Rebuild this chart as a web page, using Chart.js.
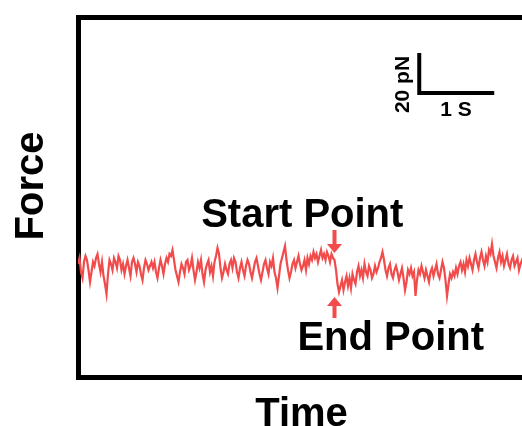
<!DOCTYPE html>
<html>
<head>
<meta charset="utf-8">
<script src="https://cdn.jsdelivr.net/npm/chart.js@4.4.1/dist/chart.umd.min.js"></script>
<style>
  html, body { margin: 0; padding: 0; background: #fff; overflow: hidden; }
  #wrap { position: relative; width: 528px; height: 426px; }
</style>
</head>
<body>
<div id="wrap"><canvas id="forceChart"></canvas></div>
<script>
// Force trace (pN, relative to the resting level), one sample every 0.02 s
const sampleStep = 0.02;
const forceTrace = [
  1, 4, -3, -6, 2, 5, 3, -2, -8, -3, 2, 0, 4, 6, 1, -3, 2, -5, -9, -14, -4, 3, 1, -2, 4,
  2, -1, 5, 3, -2, 1, -4, 0, 3, -1, -5, 2, 4, 1, -3, 2, 0, -4, -7, -1, 3, 1, -2, 0, 2,
  -1, 2, -3, -6, -1, 3, 0, -4, 1, 4, 2, 6, 5, 8, 3, -2, -5, -8, -3, 1, -1, -4, 2, 3, -2,
  0, 4, -2, -7, -3, 2, -1, 3, -4, -8, -2, 1, 3, -3, 0, -5, 2, 5, 9, 6, -1, -6, -3, 1, -2,
  -4, 1, 3, -1, 4, 2, -3, -6, -1, 2, -2, -5, 0, 3, 1, -3, -6, -2, 2, 4, 0, -4, -7, -3, 1,
  3, -1, -4, 2, 0, 4, -3, -6, -11, -5, 1, 4, 7, 10, 3, -2, -6, -3, 1, 3, -1, 2, 5, 1, -2,
  0, 3, -2, 4, 1, 5, 3, 7, 4, 6, 2, 5, 8, 4, 6, 3, 7, 5, 2, 6, 4, 3, -2, -9, -13,
  -10, -7, -12, -8, -5, -10, -6, -11, -4, -7, -9, -3, 0, -5, -2, -6, 1, -3, -5, 0, -2, -6, -4, 0, -3,
  -1, 2, 4, 7, 3, -2, -5, -1, 1, -4, -6, -2, 0, -3, -7, -4, -1, -6, -12, -8, -2, -4, -1, -5, -3,
  -15, -7, -2, -4, 0, -3, -6, -2, -5, -8, -3, -1, -5, -2, 1, -4, -6, -2, 2, -1, -7, -15, -9, -4, -6,
  -3, -5, -1, -4, 0, 2, -2, 1, -3, 3, 0, 4, 1, -2, 3, 6, 2, -1, 4, 7, 3, 0, 5, 2, 8,
  6, 11, 5, 2, -1, 4, 7, 2, 5, 0, 3, 6, 1, -1, 3, 5, 0, 2, 4, -2, 1, 3, 0, 2, 1
];

// Scale bar: 20 pN tall, 1 s wide
const scaleBarTime = [4.55, 4.55, 5.55];
const scaleBarForce = [106.5, 86.5, 86.5];

// Event markers: time, arrow tail force, arrow tip force
const startMarker = { t: 3.42, tail: 18, tip: 6.5 };
const endMarker = { t: 3.42, tail: -26, tip: -15.5 };

// Text placed in data coordinates
const textLabels = [
  { text: 'Start Point', t: 2.99, f: 19.5, size: 40 },
  { text: 'End Point', t: 4.17, f: -42, size: 40 },
  { text: '1 S', t: 5.04, f: 75, size: 21 }
];
const rotatedLabel = { text: '20 pN', t: 4.41, f: 90.75, size: 21 };

const traceColor = '#f14b4b';
const fontFamily = '"Liberation Sans", Arial, sans-serif';

function drawArrow(ctx, x, yTail, yTip) {
  const dir = yTip > yTail ? 1 : -1;
  const headLen = 9;
  const headHalf = 7.5;
  ctx.fillStyle = traceColor;
  ctx.fillRect(x - 2, Math.min(yTail, yTip - dir * headLen), 4, Math.abs(yTip - dir * headLen - yTail));
  ctx.beginPath();
  ctx.moveTo(x - headHalf, yTip - dir * headLen);
  ctx.lineTo(x + headHalf, yTip - dir * headLen);
  ctx.lineTo(x, yTip);
  ctx.closePath();
  ctx.fill();
}

const annotations = {
  id: 'annotations',
  afterDraw(chart) {
    const { ctx, scales: { x, y } } = chart;
    ctx.save();

    drawArrow(ctx, x.getPixelForValue(startMarker.t), y.getPixelForValue(startMarker.tail), y.getPixelForValue(startMarker.tip));
    drawArrow(ctx, x.getPixelForValue(endMarker.t), y.getPixelForValue(endMarker.tail), y.getPixelForValue(endMarker.tip));

    ctx.fillStyle = '#000';
    ctx.textAlign = 'center';
    ctx.textBaseline = 'alphabetic';
    textLabels.forEach(l => {
      ctx.font = 'bold ' + l.size + 'px ' + fontFamily;
      ctx.fillText(l.text, x.getPixelForValue(l.t), y.getPixelForValue(l.f));
    });

    ctx.font = 'bold ' + rotatedLabel.size + 'px ' + fontFamily;
    ctx.translate(x.getPixelForValue(rotatedLabel.t), y.getPixelForValue(rotatedLabel.f));
    ctx.rotate(-Math.PI / 2);
    ctx.fillText(rotatedLabel.text, 0, 0);
    ctx.setTransform(1, 0, 0, 1, 0, 0);

    // axis titles
    ctx.font = 'bold 40px ' + fontFamily;
    ctx.fillText('Time', (chart.chartArea.left + chart.chartArea.right) / 2, 426);
    ctx.translate(43, 186);
    ctx.rotate(-Math.PI / 2);
    ctx.fillText('Force', 0, 0);
    ctx.restore();
  }
};

const frame = { display: true, width: 5, color: '#000' };

new Chart(document.getElementById('forceChart'), {
  type: 'line',
  data: {
    datasets: [
      {
        data: forceTrace.map((f, i) => ({ x: i * sampleStep, y: f })),
        borderColor: traceColor,
        borderWidth: 2.2,
        pointRadius: 0,
        tension: 0
      },
      {
        data: scaleBarTime.map((t, i) => ({ x: t, y: scaleBarForce[i] })),
        borderColor: '#000',
        borderWidth: 4,
        borderJoinStyle: 'miter',
        borderCapStyle: 'butt',
        pointRadius: 0
      }
    ]
  },
  options: {
    responsive: true,
    maintainAspectRatio: false,
    animation: false,
    layout: { padding: { left: 0, right: 3, top: 0, bottom: 0 } },
    plugins: { legend: { display: false }, tooltip: { enabled: false } },
    scales: {
      x: {
        type: 'linear', min: 0, max: 5.96,
        ticks: { display: false }, grid: { display: false },
        border: frame,
        afterFit: s => { s.height = 49; }
      },
      top: {
        type: 'linear', position: 'top', min: 0, max: 1,
        ticks: { display: false }, grid: { display: false },
        border: frame,
        afterFit: s => { s.height = 17; }
      },
      y: {
        type: 'linear', min: -55.5, max: 124.5,
        ticks: { display: false }, grid: { display: false },
        border: frame,
        afterFit: s => { s.width = 78; }
      }
    }
  },
  plugins: [annotations]
});
</script>
</body>
</html>
